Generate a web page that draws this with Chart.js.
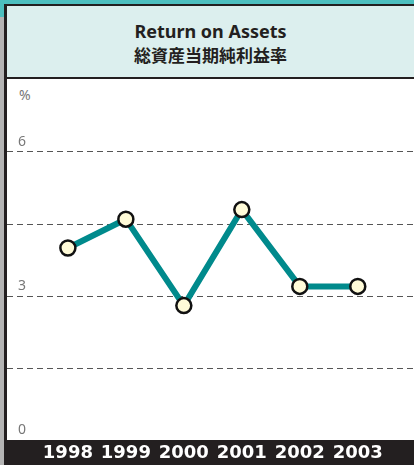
<!DOCTYPE html>
<html>
<head>
<meta charset="utf-8">
<script src="https://cdn.jsdelivr.net/npm/chart.js@4"></script>
<style>
  body { margin: 0; width: 414px; height: 465px; background: #fff; overflow: hidden; position: relative; }
  .abs { position: absolute; }
  #header { left: 7px; top: 4px; width: 407px; height: 71px; background: #dcefee;
            border-top: 2px solid #231f20; border-bottom: 2px solid #231f20; text-align: center; }
  #title-en { font: 700 18px "Noto Sans", sans-serif; color: #231f20; margin-top: 15px; line-height: 21px; }
  #title-ja { font: 700 17px "Noto Sans CJK JP", sans-serif; color: #231f20; margin-top: 2px; line-height: 21px; }
  #unit { left: 19px; top: 85px; font: 400 14px "Noto Sans", sans-serif; color: #777; }
</style>
</head>
<body>
<div class="abs" style="left:0;top:0;width:414px;height:5px;background:#4dbfbf"></div>
<div class="abs" style="left:0;top:0;width:5px;height:17px;background:#4dbfbf"></div>
<div class="abs" style="left:0;top:17px;width:4px;height:448px;background:#b4b4b4"></div>
<div class="abs" style="left:4px;top:4px;width:3px;height:461px;background:#231f20"></div>
<div class="abs" id="header">
  <div id="title-en">Return on Assets</div>
  <div id="title-ja">総資産当期純利益率</div>
</div>
<div class="abs" style="left:4px;top:440px;width:410px;height:25px;background:#231f20"></div>
<div class="abs" id="unit">%</div>
<div class="abs" style="left:7px;top:79px;width:407px;height:386px">
  <canvas id="roa-chart"></canvas>
</div>
<script>
// 総資産当期純利益率 (%)
const years = ['1998', '1999', '2000', '2001', '2002', '2003'];
const roaValues = [4.0, 4.6, 2.8, 4.8, 3.2, 3.2];
const yTickLabels = [0, 3, 6];

const ctx = document.getElementById('roa-chart');

new Chart(ctx, {
    type: 'line',
    data: {
        datasets: [{
            data: roaValues.map((v, i) => ({ x: i, y: v })),
            borderColor: '#008a8c',
            borderWidth: 6,
            pointRadius: 7.5,
            pointBorderWidth: 2.5,
            pointBorderColor: '#111',
            pointBackgroundColor: '#fffbd8',
            tension: 0,
            clip: false
        }]
    },
    options: {
        responsive: true,
        maintainAspectRatio: false,
        animation: false,
        layout: { autoPadding: false, padding: { top: 1, left: 0, right: 0, bottom: 0 } },
        plugins: { legend: { display: false }, tooltip: { enabled: false } },
        scales: {
            x: {
                type: 'linear',
                min: -1.05,
                max: 5.97,
                afterBuildTicks: s => { s.ticks = years.map((_, i) => ({ value: i })); },
                afterFit: s => { s.height = 25; s.paddingLeft = 0; s.paddingRight = 0; },
                grid: { display: false },
                border: { display: false },
                ticks: {
                    callback: v => years[v] ?? '',
                    color: '#fff',
                    padding: -5,
                    maxRotation: 0,
                    autoSkip: false,
                    font: { family: 'DejaVu Sans', weight: 'bold', size: 18 }
                }
            },
            y: {
                min: 0,
                max: 7.5,
                afterFit: s => { s.width = 0; s.paddingTop = 0; s.paddingBottom = 0; },
                grid: {
                    drawTicks: false,
                    color: c => (c.tick.value === 0 || c.tick.value === 7.5) ? 'rgba(0,0,0,0)' : '#555',
                    lineWidth: 1
                },
                border: { display: false, dash: [6, 4] },
                ticks: {
                    stepSize: 1.5,
                    mirror: true,
                    padding: 11,
                    labelOffset: -10,
                    color: '#777',
                    callback: v => yTickLabels.includes(v) ? String(v) : '',
                    font: { family: 'Noto Sans', weight: '400', size: 14 }
                }
            }
        }
    }
});
</script>
</body>
</html>
